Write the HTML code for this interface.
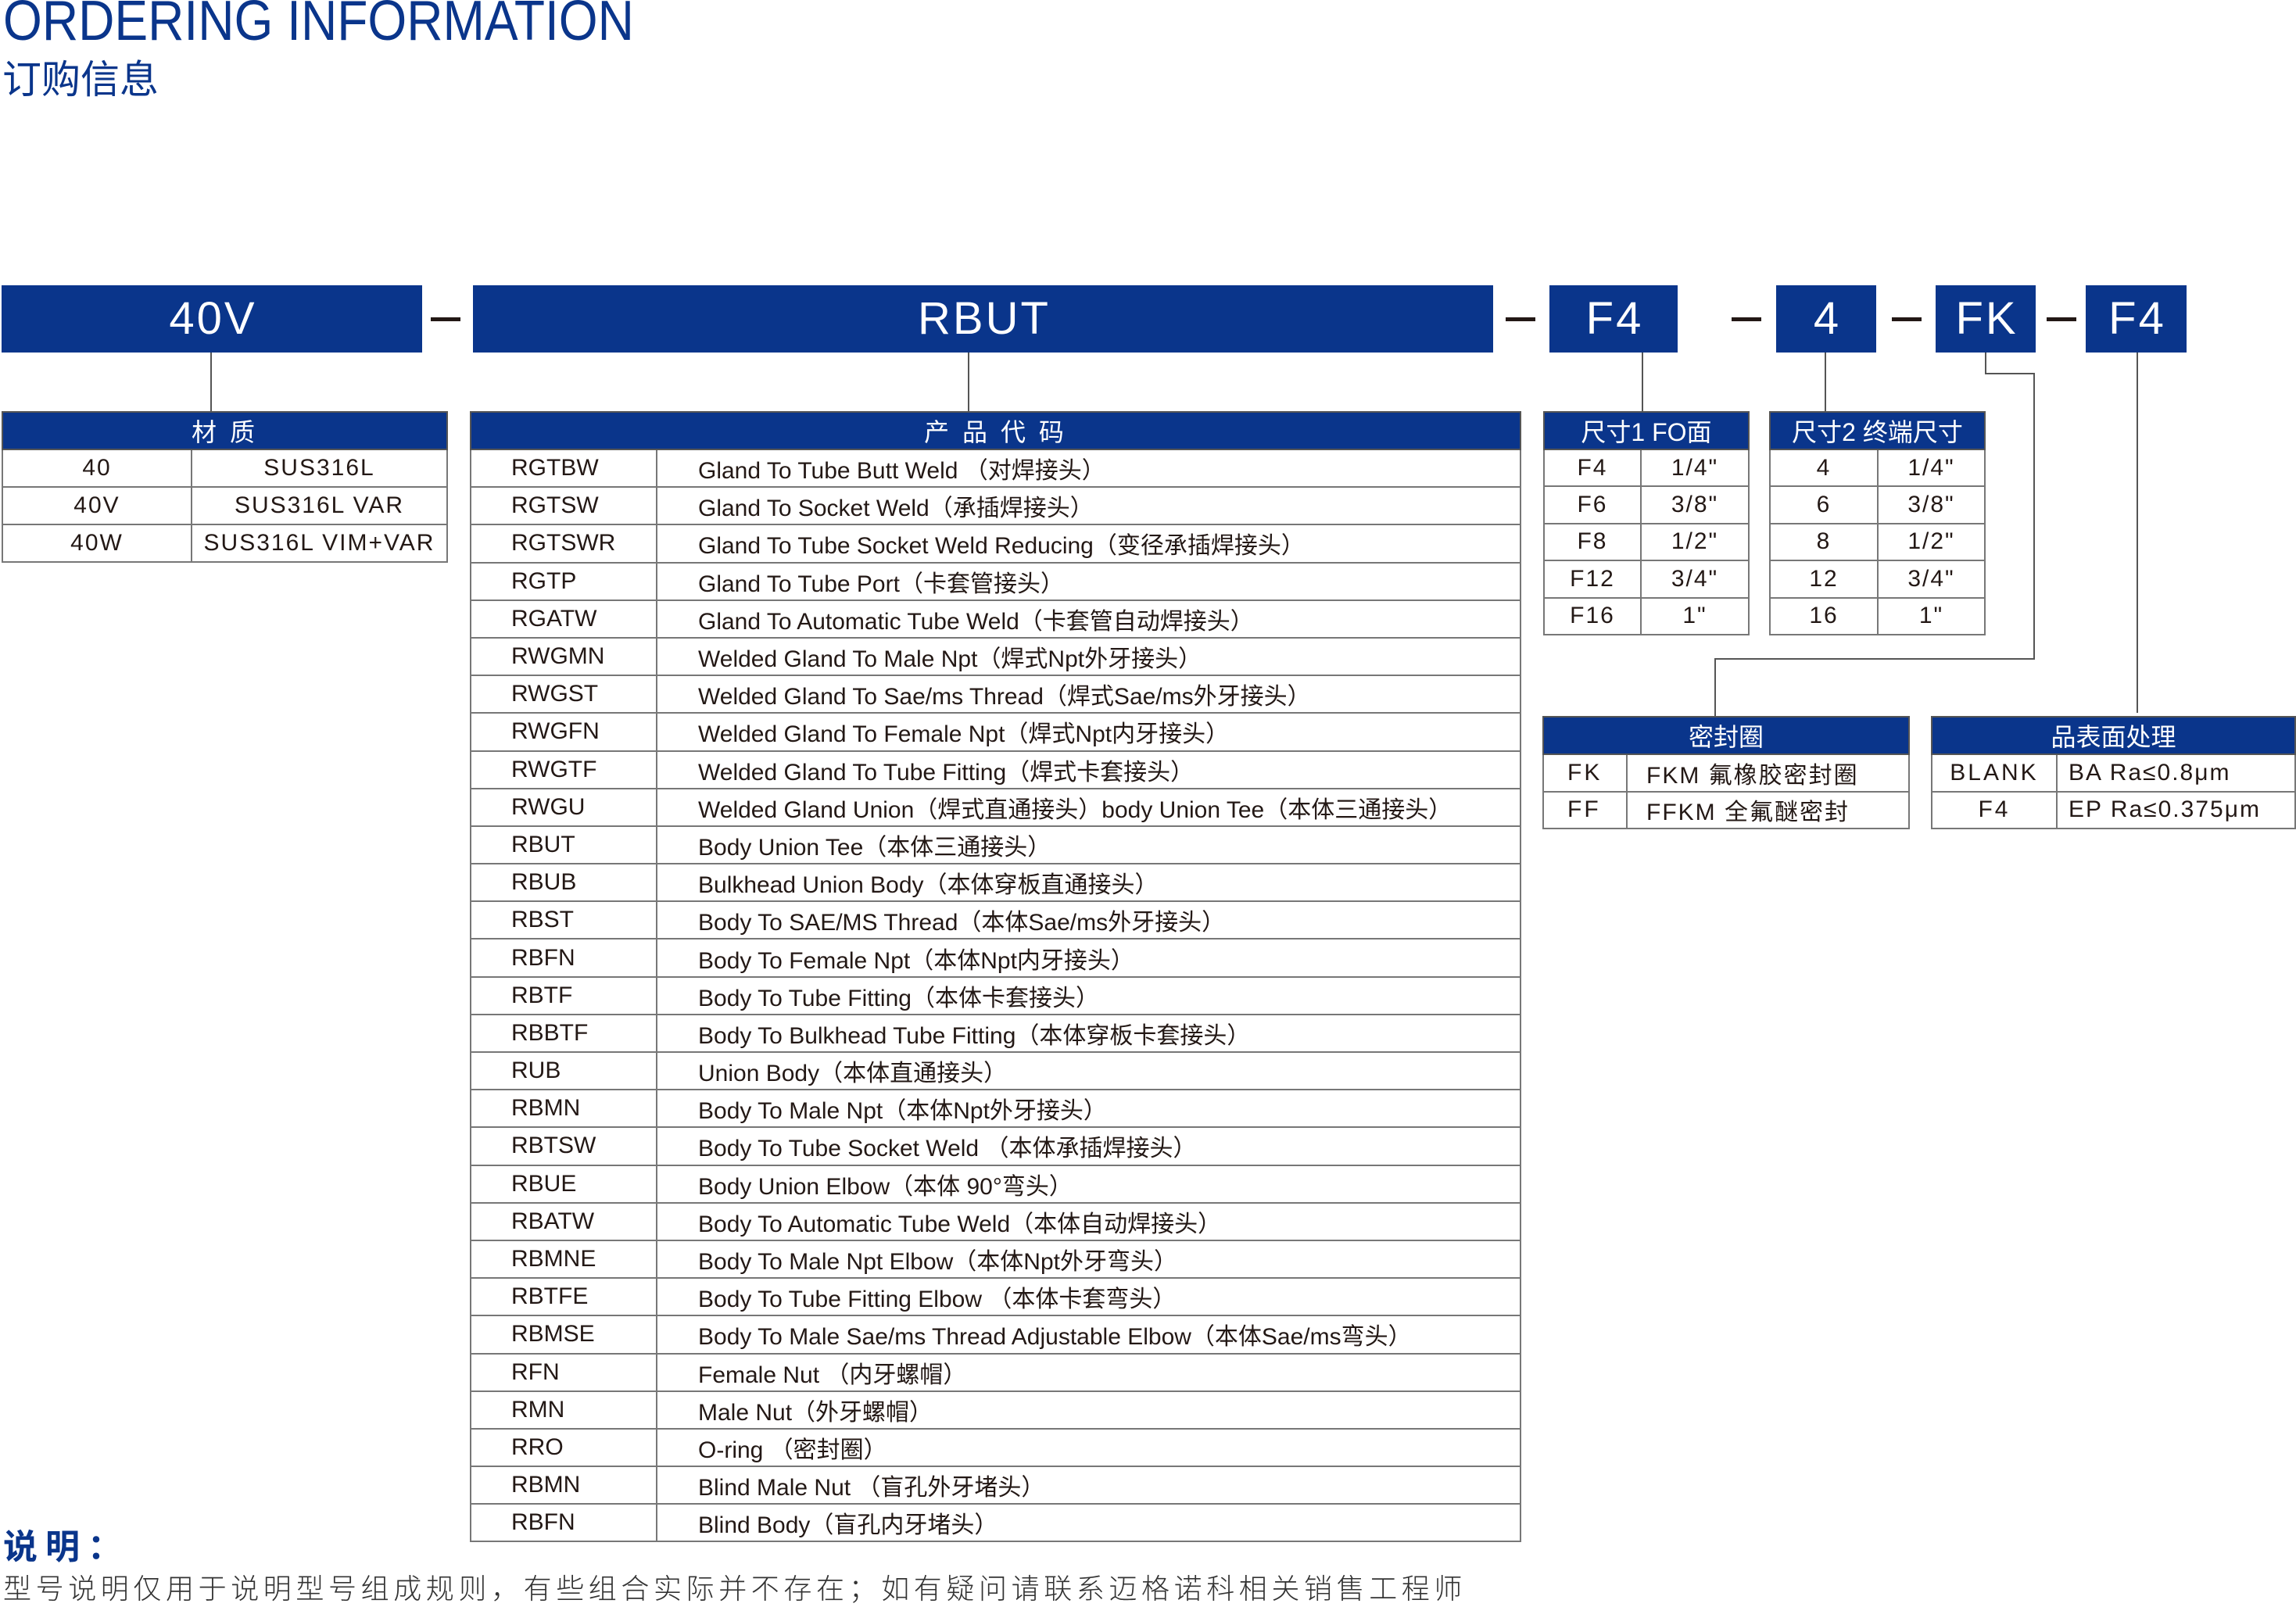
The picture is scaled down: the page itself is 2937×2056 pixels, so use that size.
<!DOCTYPE html>
<html><head><meta charset="utf-8"><style>
*{margin:0;padding:0;box-sizing:border-box}
body{width:2937px;height:2052px;position:relative;background:#fff;overflow:hidden;font-family:"Liberation Sans","Noto Sans CJK SC",sans-serif;color:#231815}
.a{position:absolute}
.box{position:absolute;top:365px;height:86px;background:#0a358b;color:#fff;font-size:58px;text-align:center;line-height:86px;letter-spacing:3px;text-indent:3px}
.dash{position:absolute;top:406px;height:5px;width:38px;background:#231815}
.v{position:absolute;width:2px;background:#555}
.h{position:absolute;height:2px;background:#555}
table{position:absolute;border-collapse:collapse;table-layout:fixed}
td{border:2px solid #777;white-space:nowrap;font-size:30px;overflow:hidden}
th{background:#0a358b;color:#fff;font-weight:normal;font-size:32px;border:2px solid #555;letter-spacing:4px}
.c td{text-align:center;letter-spacing:2px}
</style></head><body>
<div class="a" style="left:4px;top:-9px;font-size:72px;line-height:72px;color:#0a358b;transform:scaleX(0.89);transform-origin:0 0;white-space:nowrap">ORDERING INFORMATION</div>
<div class="a" style="left:3px;top:73px;font-size:50px;line-height:50px;color:#0a358b;font-family:'Noto Sans CJK SC',sans-serif">订购信息</div>

<div class="box" style="left:2px;width:538px">40V</div>
<div class="dash" style="left:551px"></div>
<div class="box" style="left:605px;width:1305px">RBUT</div>
<div class="dash" style="left:1926px"></div>
<div class="box" style="left:1982px;width:164px">F4</div>
<div class="dash" style="left:2215px"></div>
<div class="box" style="left:2272px;width:128px">4</div>
<div class="dash" style="left:2420px"></div>
<div class="box" style="left:2476px;width:128px">FK</div>
<div class="dash" style="left:2618px"></div>
<div class="box" style="left:2668px;width:129px">F4</div>

<div class="v" style="left:269px;top:451px;height:77px"></div>
<div class="v" style="left:1238px;top:451px;height:77px"></div>
<div class="v" style="left:2100px;top:451px;height:77px"></div>
<div class="v" style="left:2334px;top:451px;height:77px"></div>
<div class="v" style="left:2539px;top:451px;height:28px"></div>
<div class="h" style="left:2539px;top:477px;width:64px"></div>
<div class="v" style="left:2601px;top:477px;height:367px"></div>
<div class="h" style="left:2193px;top:842px;width:410px"></div>
<div class="v" style="left:2193px;top:842px;height:74px"></div>
<div class="v" style="left:2733px;top:451px;height:461px"></div>

<table class="c" style="left:2px;top:526px;width:571px">
<col style="width:242px"><col>
<tr style="height:48px"><th colspan="2">材 质</th></tr>
<tr style="height:48px"><td>40</td><td>SUS316L</td></tr>
<tr style="height:48px"><td>40V</td><td>SUS316L VAR</td></tr>
<tr style="height:48px"><td>40W</td><td>SUS316L VIM+VAR</td></tr>
</table>

<table style="left:601px;top:526px;width:1345px">
<col style="width:238px"><col>
<tr style="height:48px"><th colspan="2">产 品 代 码</th></tr>
<tbody style="font-size:30px">
<tr style="height:48.2px"><td style="padding-left:51px">RGTBW</td><td style="padding-left:52px">Gland To Tube Butt Weld （对焊接头）</td></tr>
<tr style="height:48.2px"><td style="padding-left:51px">RGTSW</td><td style="padding-left:52px">Gland To Socket Weld（承插焊接头）</td></tr>
<tr style="height:48.2px"><td style="padding-left:51px">RGTSWR</td><td style="padding-left:52px">Gland To Tube Socket Weld Reducing（变径承插焊接头）</td></tr>
<tr style="height:48.2px"><td style="padding-left:51px">RGTP</td><td style="padding-left:52px">Gland To Tube Port（卡套管接头）</td></tr>
<tr style="height:48.2px"><td style="padding-left:51px">RGATW</td><td style="padding-left:52px">Gland To Automatic Tube Weld（卡套管自动焊接头）</td></tr>
<tr style="height:48.2px"><td style="padding-left:51px">RWGMN</td><td style="padding-left:52px">Welded Gland To Male Npt（焊式Npt外牙接头）</td></tr>
<tr style="height:48.2px"><td style="padding-left:51px">RWGST</td><td style="padding-left:52px">Welded Gland To Sae/ms Thread（焊式Sae/ms外牙接头）</td></tr>
<tr style="height:48.2px"><td style="padding-left:51px">RWGFN</td><td style="padding-left:52px">Welded Gland To Female Npt（焊式Npt内牙接头）</td></tr>
<tr style="height:48.2px"><td style="padding-left:51px">RWGTF</td><td style="padding-left:52px">Welded Gland To Tube Fitting（焊式卡套接头）</td></tr>
<tr style="height:48.2px"><td style="padding-left:51px">RWGU</td><td style="padding-left:52px">Welded Gland Union（焊式直通接头）body Union Tee（本体三通接头）</td></tr>
<tr style="height:48.2px"><td style="padding-left:51px">RBUT</td><td style="padding-left:52px">Body Union Tee（本体三通接头）</td></tr>
<tr style="height:48.2px"><td style="padding-left:51px">RBUB</td><td style="padding-left:52px">Bulkhead Union Body（本体穿板直通接头）</td></tr>
<tr style="height:48.2px"><td style="padding-left:51px">RBST</td><td style="padding-left:52px">Body To SAE/MS Thread（本体Sae/ms外牙接头）</td></tr>
<tr style="height:48.2px"><td style="padding-left:51px">RBFN</td><td style="padding-left:52px">Body To Female Npt（本体Npt内牙接头）</td></tr>
<tr style="height:48.2px"><td style="padding-left:51px">RBTF</td><td style="padding-left:52px">Body To Tube Fitting（本体卡套接头）</td></tr>
<tr style="height:48.2px"><td style="padding-left:51px">RBBTF</td><td style="padding-left:52px">Body To Bulkhead Tube Fitting（本体穿板卡套接头）</td></tr>
<tr style="height:48.2px"><td style="padding-left:51px">RUB</td><td style="padding-left:52px">Union Body（本体直通接头）</td></tr>
<tr style="height:48.2px"><td style="padding-left:51px">RBMN</td><td style="padding-left:52px">Body To Male Npt（本体Npt外牙接头）</td></tr>
<tr style="height:48.2px"><td style="padding-left:51px">RBTSW</td><td style="padding-left:52px">Body To Tube Socket Weld （本体承插焊接头）</td></tr>
<tr style="height:48.2px"><td style="padding-left:51px">RBUE</td><td style="padding-left:52px">Body Union Elbow（本体 90°弯头）</td></tr>
<tr style="height:48.2px"><td style="padding-left:51px">RBATW</td><td style="padding-left:52px">Body To Automatic Tube Weld（本体自动焊接头）</td></tr>
<tr style="height:48.2px"><td style="padding-left:51px">RBMNE</td><td style="padding-left:52px">Body To Male Npt Elbow（本体Npt外牙弯头）</td></tr>
<tr style="height:48.2px"><td style="padding-left:51px">RBTFE</td><td style="padding-left:52px">Body To Tube Fitting Elbow （本体卡套弯头）</td></tr>
<tr style="height:48.2px"><td style="padding-left:51px">RBMSE</td><td style="padding-left:52px">Body To Male Sae/ms Thread Adjustable Elbow（本体Sae/ms弯头）</td></tr>
<tr style="height:48.2px"><td style="padding-left:51px">RFN</td><td style="padding-left:52px">Female Nut （内牙螺帽）</td></tr>
<tr style="height:48.2px"><td style="padding-left:51px">RMN</td><td style="padding-left:52px">Male Nut（外牙螺帽）</td></tr>
<tr style="height:48.2px"><td style="padding-left:51px">RRO</td><td style="padding-left:52px">O-ring （密封圈）</td></tr>
<tr style="height:48.2px"><td style="padding-left:51px">RBMN</td><td style="padding-left:52px">Blind Male Nut （盲孔外牙堵头）</td></tr>
<tr style="height:48.2px"><td style="padding-left:51px">RBFN</td><td style="padding-left:52px">Blind Body（盲孔内牙堵头）</td></tr>
</tbody></table>

<table class="c" style="left:1974px;top:526px;width:264px">
<col style="width:124px"><col>
<tr style="height:48px"><th colspan="2" style="letter-spacing:0">尺寸1 FO面</th></tr>
<tr style="height:47.4px"><td>F4</td><td>1/4"</td></tr>
<tr style="height:47.4px"><td>F6</td><td>3/8"</td></tr>
<tr style="height:47.4px"><td>F8</td><td>1/2"</td></tr>
<tr style="height:47.4px"><td>F12</td><td>3/4"</td></tr>
<tr style="height:47.4px"><td>F16</td><td>1"</td></tr>
</table>

<table class="c" style="left:2263px;top:526px;width:277px">
<col style="width:138px"><col>
<tr style="height:48px"><th colspan="2" style="letter-spacing:0">尺寸2 终端尺寸</th></tr>
<tr style="height:47.4px"><td>4</td><td>1/4"</td></tr>
<tr style="height:47.4px"><td>6</td><td>3/8"</td></tr>
<tr style="height:47.4px"><td>8</td><td>1/2"</td></tr>
<tr style="height:47.4px"><td>12</td><td>3/4"</td></tr>
<tr style="height:47.4px"><td>16</td><td>1"</td></tr>
</table>

<table style="left:1973px;top:916px;width:470px">
<col style="width:107px"><col>
<tr style="height:48px"><th colspan="2" style="letter-spacing:0">密封圈</th></tr>
<tr style="height:47.5px"><td style="padding-left:30px;letter-spacing:3px">FK</td><td style="padding-left:24px;letter-spacing:2px">FKM 氟橡胶密封圈</td></tr>
<tr style="height:47.5px"><td style="padding-left:30px;letter-spacing:3px">FF</td><td style="padding-left:24px;letter-spacing:2px">FFKM 全氟醚密封</td></tr>
</table>

<table style="left:2470px;top:916px;width:467px">
<col style="width:160px"><col>
<tr style="height:48px"><th colspan="2" style="letter-spacing:0">品表面处理</th></tr>
<tr style="height:47.5px"><td style="text-align:center;letter-spacing:3px">BLANK</td><td style="padding-left:14px;letter-spacing:2px">BA Ra≤0.8μm</td></tr>
<tr style="height:47.5px"><td style="text-align:center;letter-spacing:3px">F4</td><td style="padding-left:14px;letter-spacing:2px">EP Ra≤0.375μm</td></tr>
</table>

<div class="a" style="left:4px;top:1950px;font-size:44px;line-height:50px;color:#0a358b;font-weight:bold;letter-spacing:10px;font-family:'Noto Sans CJK SC',sans-serif">说明：</div>
<div class="a" style="left:4px;top:2008px;font-size:36px;line-height:44px;color:#333;letter-spacing:5.6px;white-space:nowrap;font-family:'Noto Sans CJK SC',sans-serif;font-weight:300">型号说明仅用于说明型号组成规则，有些组合实际并不存在；如有疑问请联系迈格诺科相关销售工程师</div>
</body></html>
